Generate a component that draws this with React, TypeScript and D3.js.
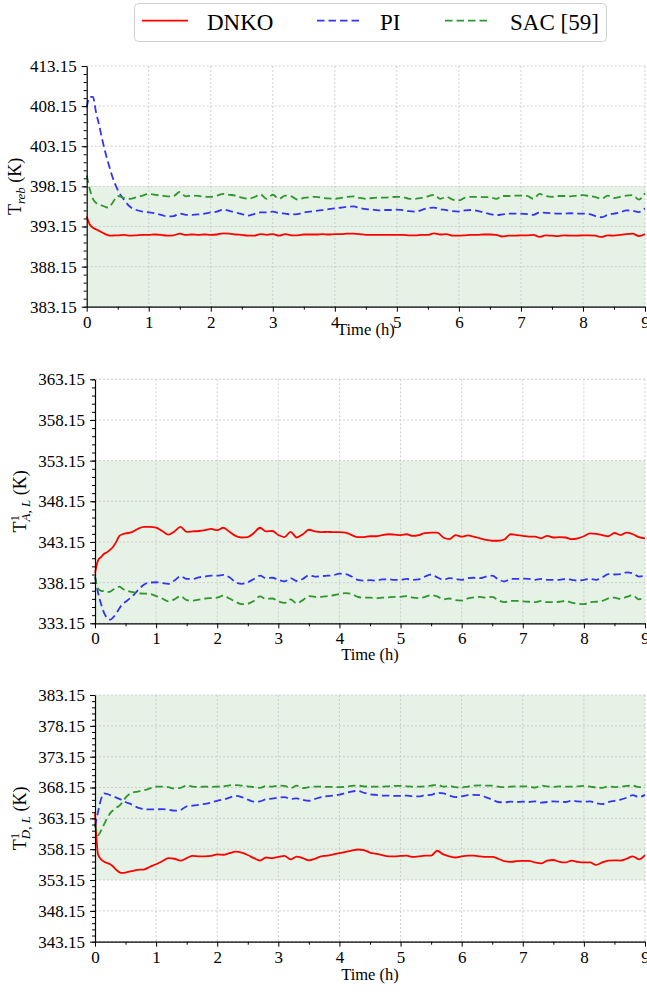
import * as d3 from "d3";
import { useRef, useEffect } from "react";

// time grid (h): finer at the start to catch the transients
const hours = [0, 0.05, 0.1, 0.15, 0.2, 0.25, 0.3, 0.35, 0.4, 0.45, 0.5, ...d3.range(6, 91).map((i) => i / 10)];

const xTicks = [0, 1, 2, 3, 4, 5, 6, 7, 8, 9];

// panel 1: reboiler temperature
const rebTicks = [383.15, 388.15, 393.15, 398.15, 403.15, 408.15, 413.15];
const rebBand = [383.15, 398.15];
const rebDnko = [
  394.4, 393.4, 393.0, 392.8, 392.6, 392.4, 392.2, 392.05, 392.0, 392.05, 392.05,
  392.1, 392.0, 392.05, 392.1, 392.1, 392.15, 392.1, 392.0, 392.05, 392.25, 392.1, 392.15, 392.1, 392.15,
  392.1, 392.15, 392.3, 392.25, 392.15, 392.1, 392.0, 392.0, 392.2, 392.1, 392.2, 392.0, 392.2, 392.05,
  392.05, 392.15, 392.15, 392.15, 392.2, 392.15, 392.2, 392.2, 392.25, 392.25, 392.2, 392.1, 392.1, 392.1,
  392.1, 392.1, 392.1, 392.1, 392.05, 392.05, 392.1, 392.1, 392.3, 392.15, 392.2, 392.0, 392.0, 392.05,
  392.1, 392.1, 392.15, 392.15, 392.1, 391.9, 392.0, 392.0, 392.05, 392.05, 392.1, 391.85, 392.05, 392.0,
  391.95, 392.05, 392.0, 392.0, 392.05, 392.05, 392.0, 391.85, 392.05, 392.0, 392.1, 392.2, 392.25, 391.95, 392.2,
];
const rebPi = [
  408.0, 409.3, 409.3, 407.4, 405.8, 404.0, 402.4, 401.0, 399.7, 398.6, 397.7,
  396.5, 395.6, 395.2, 395.0, 394.9, 394.8, 394.6, 394.4, 394.45, 394.75, 394.6, 394.6, 394.65, 394.75,
  394.9, 395.0, 395.25, 395.1, 394.9, 394.7, 394.5, 394.7, 394.9, 394.9, 395.0, 394.8, 394.75, 394.65,
  394.7, 394.9, 395.0, 395.1, 395.2, 395.3, 395.4, 395.5, 395.6, 395.65, 395.45, 395.3, 395.25, 395.15,
  395.2, 395.2, 395.25, 395.2, 395.05, 395.0, 395.2, 395.45, 395.5, 395.3, 395.2, 395.05, 395.0, 395.15,
  395.2, 395.1, 394.9, 394.7, 394.55, 394.65, 394.75, 394.75, 394.75, 394.7, 394.6, 394.9, 394.85, 394.8,
  394.75, 394.75, 394.8, 394.75, 394.75, 394.7, 394.45, 394.3, 394.6, 394.75, 394.9, 395.15, 395.1, 394.95, 395.4,
];
const rebSac = [
  399.5, 397.8, 396.6, 396.1, 395.9, 395.75, 395.6, 395.5, 395.9, 396.5, 396.95,
  396.7, 396.6, 396.8, 397.0, 397.2, 397.1, 397.0, 396.9, 396.95, 397.45, 396.9, 397.0, 396.95, 396.85,
  396.85, 397.0, 397.2, 397.1, 397.0, 396.75, 396.6, 396.8, 397.15, 396.6, 397.1, 396.6, 397.0, 396.9,
  396.5, 396.7, 396.8, 396.85, 396.7, 396.65, 396.6, 396.7, 396.85, 396.9, 396.7, 396.6, 396.7, 396.75,
  396.75, 396.8, 396.85, 396.8, 396.6, 396.6, 396.7, 396.9, 397.1, 396.6, 396.85, 396.5, 396.4, 396.75,
  396.85, 396.85, 396.8, 396.8, 396.6, 396.95, 396.95, 397.0, 397.0, 396.95, 396.6, 397.2, 396.95, 396.85,
  396.95, 396.95, 396.9, 397.0, 397.05, 396.95, 396.8, 396.6, 397.0, 396.7, 396.85, 397.0, 397.05, 396.5, 397.3,
];

// panel 2: T^1_{A,L}
const alTicks = [333.15, 338.15, 343.15, 348.15, 353.15, 358.15, 363.15];
const alBand = [333.15, 353.15];
const alDnko = [
  339.3, 340.9, 341.3, 341.7, 341.9, 342.2, 342.6, 343.2, 343.9, 344.1, 344.2,
  344.35, 344.75, 345.0, 345.0, 344.9, 344.5, 344.05, 344.45, 345.0, 344.4, 344.45, 344.5, 344.6, 344.75,
  344.6, 344.9, 344.4, 343.9, 343.7, 343.75, 344.25, 344.9, 344.45, 344.5, 344.0, 343.75, 344.4, 343.7,
  344.1, 344.65, 344.45, 344.35, 344.4, 344.35, 344.35, 344.3, 344.0, 343.75, 343.75, 343.85, 343.85, 344.0,
  344.1, 344.05, 344.0, 344.1, 343.9, 344.0, 344.25, 344.3, 344.3, 343.7, 343.5, 344.0, 343.8, 343.95,
  343.8, 343.6, 343.4, 343.3, 343.3, 343.45, 344.1, 344.0, 343.9, 343.8, 343.8, 343.6, 343.9, 343.7,
  343.75, 343.7, 343.5, 343.6, 343.85, 344.2, 344.15, 344.0, 343.85, 344.25, 344.0, 344.3, 344.1, 343.75, 343.6,
];
const alPi = [
  338.9, 336.9, 335.5, 334.4, 333.8, 333.6, 333.9, 334.4, 335.0, 335.5, 335.8,
  336.4, 337.2, 337.9, 338.15, 338.2, 338.1, 338.0, 338.4, 338.95, 338.6, 338.6, 338.8, 338.9, 339.0,
  339.0, 339.1, 338.8, 338.2, 338.0, 338.2, 338.6, 339.0, 338.7, 338.75, 338.5, 338.3, 338.7, 338.35,
  338.6, 339.05, 338.9, 338.95, 339.0, 339.05, 339.25, 339.2, 338.9, 338.5, 338.4, 338.45, 338.4, 338.55,
  338.55, 338.5, 338.5, 338.6, 338.5, 338.55, 338.9, 339.15, 338.8, 338.5, 338.7, 338.6, 338.5, 338.7,
  338.75, 338.7, 338.9, 339.0, 338.55, 338.3, 338.6, 338.6, 338.65, 338.6, 338.5, 338.6, 338.5, 338.5,
  338.5, 338.6, 338.5, 338.4, 338.5, 338.6, 338.5, 338.8, 339.2, 339.15, 339.2, 339.4, 339.3, 338.9, 339.0,
];
const alSac = [
  338.9, 337.4, 337.15, 337.1, 337.0, 337.05, 337.3, 337.5, 337.65, 337.4, 337.2,
  337.0, 336.85, 336.8, 336.75, 336.5, 336.2, 335.85, 336.1, 336.5, 336.0, 335.95, 336.05, 336.2, 336.25,
  336.3, 336.55, 336.2, 335.8, 335.5, 335.55, 335.9, 336.45, 336.15, 336.2, 335.85, 335.65, 336.1, 335.6,
  336.0, 336.5, 336.4, 336.4, 336.5, 336.6, 336.75, 336.85, 336.75, 336.4, 336.3, 336.3, 336.25, 336.3,
  336.35, 336.4, 336.4, 336.5, 336.3, 336.25, 336.4, 336.6, 336.45, 336.1, 336.2, 336.0, 335.95, 336.2,
  336.35, 336.4, 336.3, 336.4, 336.0, 335.75, 335.9, 335.9, 335.85, 335.8, 335.75, 335.9, 335.75, 335.75,
  335.8, 335.9, 335.7, 335.55, 335.5, 335.75, 335.8, 335.9, 336.2, 336.3, 336.15, 336.4, 336.6, 336.1, 336.3,
];

// panel 3: T^1_{D,L}
const dlTicks = [343.15, 348.15, 353.15, 358.15, 363.15, 368.15, 373.15, 378.15, 383.15];
const dlBand = [353.15, 383.15];
const dlDnko = [
  364.0, 357.3, 356.5, 356.1, 355.9, 355.7, 355.3, 354.8, 354.4, 354.3, 354.35,
  354.6, 354.8, 354.85, 355.3, 355.7, 356.2, 356.7, 356.6, 356.3, 356.7, 357.05, 357.0, 357.0, 357.05,
  357.3, 357.25, 357.5, 357.75, 357.6, 357.2, 356.7, 356.3, 356.8, 356.7, 356.9, 357.05, 356.5, 356.95,
  356.7, 356.35, 356.6, 357.0, 357.1, 357.3, 357.5, 357.7, 357.9, 358.1, 358.0, 357.6, 357.4, 357.2,
  357.0, 357.0, 357.05, 357.1, 356.9, 357.0, 357.1, 357.1, 357.9, 357.3, 357.0, 356.8, 357.0, 357.1,
  357.1, 357.0, 356.9, 356.9, 356.6, 356.2, 356.1, 356.2, 356.25, 356.25, 356.0, 355.85, 356.3, 356.4,
  356.1, 356.0, 356.3, 356.1, 356.0, 356.0, 355.6, 356.0, 356.3, 356.35, 356.3, 356.6, 357.0, 356.5, 357.2,
];
const dlPi = [
  361.8, 364.2, 366.3, 367.2, 367.1, 366.9, 366.7, 366.5, 366.3, 366.1, 365.8,
  365.4, 364.9, 364.65, 364.6, 364.6, 364.65, 364.55, 364.4, 364.5, 365.1, 365.2, 365.35, 365.5, 365.7,
  366.0, 366.2, 366.5, 366.8, 366.6, 366.2, 365.85, 365.9, 366.25, 366.35, 366.5, 366.6, 366.3, 366.4,
  366.15, 366.0, 366.3, 366.6, 366.75, 366.85, 367.0, 367.25, 367.5, 367.6, 367.3, 367.05, 366.95, 366.85,
  366.85, 366.8, 366.8, 366.85, 366.7, 366.7, 366.9, 366.95, 367.3, 367.2, 366.85, 366.6, 366.7, 366.9,
  366.95, 366.9, 366.55, 366.2, 365.8, 365.75, 365.85, 365.8, 365.85, 365.8, 365.9, 365.7, 365.8, 365.9,
  365.85, 365.8, 366.0, 365.9, 365.85, 365.9, 365.6, 365.45, 365.8, 366.0, 366.2, 366.5, 366.9, 366.6, 366.95,
];
const dlSac = [
  362.3, 360.4, 361.2, 362.2, 363.2, 364.0, 364.5, 364.9, 365.2, 365.8, 366.5,
  367.3, 367.5, 367.7, 368.0, 368.3, 368.3, 368.2, 368.0, 368.1, 368.45, 368.3, 368.25, 368.3, 368.25,
  368.3, 368.35, 368.5, 368.55, 368.45, 368.35, 368.2, 368.1, 368.4, 368.3, 368.45, 368.4, 368.05, 368.45,
  368.05, 368.2, 368.3, 368.3, 368.25, 368.25, 368.2, 368.3, 368.4, 368.45, 368.35, 368.3, 368.3, 368.3,
  368.35, 368.4, 368.4, 368.35, 368.3, 368.3, 368.35, 368.45, 368.6, 368.3, 368.4, 368.2, 368.15, 368.3,
  368.45, 368.5, 368.45, 368.45, 368.3, 368.2, 368.3, 368.35, 368.35, 368.3, 368.15, 368.45, 368.35, 368.25,
  368.35, 368.3, 368.3, 368.35, 368.4, 368.3, 368.15, 368.1, 368.35, 368.2, 368.3, 368.4, 368.45, 368.2, 368.5,
];

const seriesNames = ["DNKO", "PI", "SAC [59]"];
const seriesColors = ["#ff0000", "#3434f4", "#2e962e"];
const seriesDash = [null, "7.5,4", "7.5,4"];

const FONT = "'Liberation Serif', 'Times New Roman', serif";

const panels = [
  { left: 86.7, top: 66, bottom: 306.7, ticks: rebTicks, band: rebBand, data: [rebDnko, rebPi, rebSac],
    label: "reb", labelX: 21, xLabelDy: 28 },
  { left: 95, top: 379.3, bottom: 623.3, ticks: alTicks, band: alBand, data: [alDnko, alPi, alSac],
    label: "A, L", labelX: 26, xLabelDy: 37 },
  { left: 95, top: 695, bottom: 941.7, ticks: dlTicks, band: dlBand, data: [dlDnko, dlPi, dlSac],
    label: "D, L", labelX: 26, xLabelDy: 38 },
];
const RIGHT = 645;

const App = () => {
  const svgRef = useRef(null);

  useEffect(() => {
    const svg = d3.select(svgRef.current);
    svg.selectAll("*").remove();

    // legend
    const lg = svg.append("g");
    lg.append("rect")
      .attr("x", 134.5).attr("y", 3.5).attr("width", 472).attr("height", 38).attr("rx", 4)
      .attr("fill", "white").attr("stroke", "#d0d0d0");
    const legX = [142, 317, 445];
    const legTx = [207, 380, 510];
    seriesNames.forEach((name, i) => {
      lg.append("line")
        .attr("x1", legX[i]).attr("x2", legX[i] + 46).attr("y1", 20.7).attr("y2", 20.7)
        .attr("stroke", seriesColors[i]).attr("stroke-width", 1.8)
        .attr("stroke-dasharray", seriesDash[i]);
      lg.append("text")
        .attr("x", legTx[i]).attr("y", 29.5)
        .attr("font-family", FONT).attr("font-size", 23)
        .text(name);
    });

    panels.forEach((p) => {
      const x = d3.scaleLinear().domain([0, 9]).range([p.left, RIGHT]);
      const y = d3.scaleLinear()
        .domain([p.ticks[0], p.ticks[p.ticks.length - 1]])
        .range([p.bottom, p.top]);
      const g = svg.append("g");

      // shaded band
      g.append("rect")
        .attr("x", p.left).attr("width", RIGHT - p.left)
        .attr("y", y(p.band[1])).attr("height", y(p.band[0]) - y(p.band[1]))
        .attr("fill", "rgb(230, 242, 230)");

      // grid
      g.append("g").selectAll("line").data(p.ticks).enter().append("line")
        .attr("x1", p.left).attr("x2", RIGHT)
        .attr("y1", (d) => y(d)).attr("y2", (d) => y(d))
        .attr("stroke", "#c4c4c4").attr("stroke-width", 0.8).attr("stroke-dasharray", "2,2");
      g.append("g").selectAll("line").data(xTicks.slice(1)).enter().append("line")
        .attr("x1", (d) => x(d)).attr("x2", (d) => x(d))
        .attr("y1", p.top).attr("y2", p.bottom)
        .attr("stroke", "#c4c4c4").attr("stroke-width", 0.8).attr("stroke-dasharray", "2,2");

      // series
      p.data.forEach((vals, i) => {
        const line = d3.line()
          .x((d, k) => x(hours[k]))
          .y((d) => y(d))
          .curve(d3.curveMonotoneX);
        g.append("path")
          .datum(vals)
          .attr("fill", "none")
          .attr("stroke", seriesColors[i])
          .attr("stroke-width", 1.8)
          .attr("stroke-dasharray", seriesDash[i])
          .attr("d", line);
      });

      // minor ticks
      const yMinor = d3.range(0, (p.ticks[p.ticks.length - 1] - p.ticks[0]) + 0.5, 1).map((k) => p.ticks[0] + k);
      const yAxisMinor = d3.axisLeft(y).tickValues(yMinor).tickSize(3).tickFormat(() => "");
      g.append("g").attr("transform", `translate(${p.left},0)`).call(yAxisMinor)
        .call((s) => s.select(".domain").remove());
      const xAxisMinor = d3.axisBottom(x).tickValues(d3.range(0.5, 9, 1)).tickSize(3).tickFormat(() => "");
      g.append("g").attr("transform", `translate(0,${p.bottom})`).call(xAxisMinor)
        .call((s) => s.select(".domain").remove());

      // major axes
      const yAxis = d3.axisLeft(y).tickValues(p.ticks).tickFormat(d3.format(".2f"))
        .tickSize(5).tickSizeOuter(0).tickPadding(5);
      const ya = g.append("g").attr("transform", `translate(${p.left},0)`).call(yAxis);
      const xAxis = d3.axisBottom(x).tickValues(xTicks).tickFormat(d3.format("d"))
        .tickSize(5).tickSizeOuter(0).tickPadding(4);
      const xa = g.append("g").attr("transform", `translate(0,${p.bottom})`).call(xAxis);
      [ya, xa].forEach((a) => {
        a.attr("font-family", FONT).attr("font-size", 17);
        a.selectAll("text").attr("fill", "#000");
        a.select(".domain").attr("stroke", "#000").attr("stroke-width", 1.2);
      });

      // x label
      g.append("text")
        .attr("x", (p.left + RIGHT) / 2).attr("y", p.bottom + p.xLabelDy)
        .attr("text-anchor", "middle")
        .attr("font-family", FONT).attr("font-size", 16.5)
        .text("Time (h)");

      // y label
      const cy = (p.top + p.bottom) / 2;
      const yl = g.append("text")
        .attr("transform", `translate(${p.labelX},${cy}) rotate(-90)`)
        .attr("text-anchor", "middle")
        .attr("font-family", FONT).attr("font-size", 18);
      yl.append("tspan").text("T");
      if (p.label === "reb") {
        yl.append("tspan").attr("dy", 4).attr("font-size", 13).attr("font-style", "italic").text(p.label);
        yl.append("tspan").attr("dy", -4).text(" (K)");
      } else {
        yl.append("tspan").attr("dy", -7).attr("font-size", 13).text("1");
        yl.append("tspan").attr("dx", -6.5).attr("dy", 11).attr("font-size", 13).attr("font-style", "italic").text(p.label);
        yl.append("tspan").attr("dy", -4).text(" (K)");
      }
    });
  }, []);

  return (
    <div style={{ position: "absolute", left: 0, top: 0, width: 647, height: 992, overflow: "hidden" }}>
      <svg ref={svgRef} width={647} height={992} style={{ display: "block", overflow: "hidden" }} />
    </div>
  );
};

export default App;
